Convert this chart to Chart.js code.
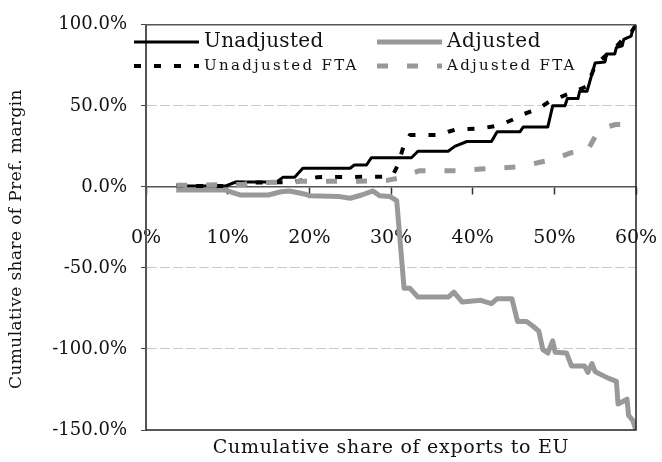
<!DOCTYPE html>
<html>
<head>
<meta charset="utf-8">
<script src="https://cdn.jsdelivr.net/npm/chart.js@4.4.0/dist/chart.umd.min.js"></script>
<style>
  html, body { margin: 0; padding: 0; background: #fff; }
  #wrap { width: 662px; height: 462px; }
</style>
</head>
<body>
<div id="wrap"><canvas id="chart"></canvas></div>
<script>
const FONT = "'DejaVu Serif', Georgia, serif";

// axis ticks (percent)
const xTicks = [0, 10, 20, 30, 40, 50, 60];
const yTicks = [-150, -100, -50, 0, 50, 100];

// Unadjusted (cumulative share of exports %, cumulative share of pref. margin %)
const unadjX = [3.7, 9.7, 11, 16, 16.8, 18.2, 19.2, 25, 25.5, 27, 27.6, 32.5, 33.3, 37, 37.8, 39.3, 42.3, 43, 45.8, 46.2, 49.2, 49.8, 51.3, 51.6, 52.9, 53.1, 54, 55, 56.2, 56.4, 57.4, 57.6, 58.3, 58.5, 59.4, 59.6, 60];
const unadjY = [0.5, 0.5, 3, 3, 6, 6, 11.5, 11.5, 13.5, 13.5, 18, 18, 22, 22, 25, 28, 28, 34, 34, 37, 37, 50, 50, 54.5, 54.5, 59, 59, 76.5, 77, 82, 82, 86, 87, 91, 93, 97, 100];

// Adjusted
const adjX = [3.7, 9.7, 11.5, 15, 16.5, 17.5, 18.5, 19.5, 20, 23.7, 25, 26.4, 27.8, 28.6, 29.9, 30.7, 31.6, 32.3, 33.3, 37, 37.7, 38.7, 41, 42.3, 43, 44.8, 45.5, 46.6, 47.4, 48.1, 48.6, 49.2, 49.8, 50.1, 51.5, 52.1, 53.7, 54.1, 54.6, 55, 56.6, 57.6, 57.8, 58.9, 59.1, 59.6, 60];
const adjY = [-2, -2, -5, -5, -3, -2.5, -3.5, -4.5, -5.5, -6, -7, -5, -2.5, -5.5, -6, -8.5, -62.5, -62.5, -68, -68, -65, -71, -70, -72, -69, -69, -83, -83, -86, -89, -100.5, -102.5, -95, -102, -102.5, -110.5, -110.5, -114.5, -109, -114, -118, -120, -134, -131, -141, -144, -150];

// Unadjusted FTA
const unadjFtaX = [3.7, 10, 11, 18, 19, 21, 29.5, 30.3, 30.8, 31.6, 32.3, 36, 37, 38, 41, 43.3, 45.6, 46, 48, 49.5, 50.3, 52.5, 54, 55, 56.5, 57.5, 58.4, 59.5, 60];
const unadjFtaY = [0.5, 0.5, 2.5, 3, 4, 6, 6.3, 8, 13, 26, 32, 32, 34, 35.5, 36, 38, 43, 44.5, 48, 53, 54.5, 59, 62, 75, 82, 86, 91, 96, 100];

// Adjusted FTA
const adjFtaX = [3.7, 12, 13, 18, 19, 26, 29.5, 31, 33.5, 38.5, 41, 43, 46, 48.5, 50, 52, 54, 55, 55.8, 57.5, 59];
const adjFtaY = [1, 1.5, 2.5, 3, 3.5, 3.5, 4, 5.5, 10, 10, 11, 11.5, 12.5, 15.5, 17, 21, 22, 31, 36, 38.5, 38.5];

function toPoints(xs, ys) {
    return xs.map((x, i) => ({ x: x, y: ys[i] }));
}

// frame, titles and the in-plot legend
const framePlugin = {
    id: 'framePlugin',
    afterDraw(chart) {
        const ctx = chart.ctx;
        const a = chart.chartArea;
        ctx.save();
        ctx.lineCap = 'butt';
        ctx.strokeStyle = '#555';
        ctx.lineWidth = 1.5;
        ctx.beginPath();
        ctx.moveTo(a.left, a.top);
        ctx.lineTo(a.right, a.top);
        ctx.stroke();
        ctx.strokeStyle = '#222';
        ctx.beginPath();
        ctx.moveTo(a.right, a.top);
        ctx.lineTo(a.right, a.bottom);
        ctx.lineTo(a.left, a.bottom);
        ctx.stroke();

        // axis titles
        ctx.fillStyle = '#111';
        ctx.textAlign = 'center';
        ctx.textBaseline = 'middle';
        ctx.font = '19px ' + FONT;
        ctx.letterSpacing = '0.7px';
        ctx.fillText('Cumulative share of exports to EU', (a.left + a.right) / 2, 448);
        ctx.font = '17px ' + FONT;
        ctx.letterSpacing = '0.4px';
        ctx.save();
        ctx.translate(17, 239);
        ctx.rotate(-Math.PI / 2);
        ctx.fillText('Cumulative share of Pref. margin', 0, 0);
        ctx.restore();

        // legend
        const entries = [
            { ds: 0, x: 134, y: 42, font: '20px ' + FONT, spacing: '0.3px' },
            { ds: 1, x: 377, y: 42, font: '20px ' + FONT, spacing: '0.6px' },
            { ds: 2, x: 134, y: 66, font: '15px ' + FONT, spacing: '2.3px' },
            { ds: 3, x: 377, y: 66, font: '15px ' + FONT, spacing: '2.3px' }
        ];
        entries.forEach(e => {
            const d = chart.data.datasets[e.ds];
            ctx.strokeStyle = d.borderColor;
            ctx.lineWidth = d.borderWidth;
            ctx.setLineDash(d.borderDash || []);
            ctx.beginPath();
            ctx.moveTo(e.x, e.y);
            ctx.lineTo(e.x + 65, e.y);
            ctx.stroke();
            ctx.setLineDash([]);
            ctx.fillStyle = '#111';
            ctx.textAlign = 'left';
            ctx.font = e.font;
            ctx.letterSpacing = e.spacing;
            ctx.fillText(d.label, e.x + 70, e.y);
        });
        ctx.letterSpacing = '0px';
        ctx.restore();
    }
};

const ctx = document.getElementById('chart').getContext('2d');
new Chart(ctx, {
    type: 'scatter',
    data: {
        datasets: [
            { label: 'Unadjusted', data: toPoints(unadjX, unadjY), borderColor: '#000', borderWidth: 3, order: 3 },
            { label: 'Adjusted', data: toPoints(adjX, adjY), borderColor: '#999', borderWidth: 5, order: 2 },
            { label: 'Unadjusted FTA', data: toPoints(unadjFtaX, unadjFtaY), borderColor: '#000', borderWidth: 4, borderDash: [7, 13], order: 1 },
            { label: 'Adjusted FTA', data: toPoints(adjFtaX, adjFtaY), borderColor: '#999', borderWidth: 5, borderDash: [11, 19], order: 0 }
        ]
    },
    options: {
        responsive: true,
        maintainAspectRatio: false,
        animation: false,
        showLine: true,
        elements: {
            point: { radius: 0, hoverRadius: 0 },
            line: { tension: 0, fill: false, borderJoinStyle: 'round' }
        },
        layout: { padding: { top: 20, right: 26, bottom: 32, left: 0 } },
        plugins: {
            legend: { display: false },
            tooltip: { enabled: false }
        },
        scales: {
            x: {
                type: 'linear',
                min: 0,
                max: 60,
                position: { y: 0 },
                afterBuildTicks: scale => { scale.ticks = xTicks.map(v => ({ value: v })); },
                // labels sit well below the zero line; keep that gap out of the side padding
                afterFit: scale => { scale.paddingLeft = 0; scale.paddingRight = 0; },
                ticks: {
                    callback: v => v + '%',
                    font: { family: FONT, size: 19 },
                    color: '#111',
                    padding: 33,
                    maxRotation: 0
                },
                grid: { drawOnChartArea: false, drawTicks: true, tickLength: 7, tickColor: '#333', tickWidth: 1.5 },
                border: { display: true, color: '#555', width: 1.5 }
            },
            y: {
                type: 'linear',
                min: -150,
                max: 100,
                afterBuildTicks: scale => { scale.ticks = yTicks.map(v => ({ value: v })); },
                afterFit: scale => { scale.width = 146; },
                ticks: {
                    callback: v => v.toFixed(1) + '%',
                    font: { family: FONT, size: 18 },
                    color: '#111',
                    padding: 14
                },
                grid: {
                    color: c => [50, -50, -100].includes(c.tick && c.tick.value) ? '#c8c8c8' : 'rgba(0,0,0,0)',
                    borderDash: [8, 6],
                    drawTicks: true,
                    tickLength: 5,
                    tickColor: '#444',
                    tickBorderDash: []
                },
                border: { display: true, color: '#555', width: 2, dash: [10, 3] }
            }
        }
    },
    plugins: [framePlugin]
});
</script>
</body>
</html>
